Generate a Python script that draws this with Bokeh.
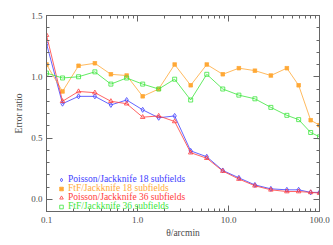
from bokeh.plotting import figure
from bokeh.models import (FixedTicker, LogAxis, LinearAxis, Legend, LegendItem,
                          PrintfTickFormatter, CustomJSTickFormatter, Range1d)
from bokeh.embed import file_html
from bokeh.resources import INLINE

theta = [0.1, 0.15, 0.225, 0.34, 0.51, 0.76, 1.14, 1.71, 2.56, 3.84, 5.77, 8.65,
         13.0, 19.5, 29.2, 43.8, 59.0, 80.0, 100.0]
poisson_jk18 = [1.27, 0.78, 0.84, 0.84, 0.77, 0.81, 0.73, 0.665, 0.68, 0.395, 0.347,
                0.235, 0.175, 0.117, 0.085, 0.077, 0.077, 0.056, 0.056]
ftf_jk18 = [1.10, 0.88, 1.09, 1.11, 1.02, 1.01, 0.84, 0.90, 1.10, 0.93, 1.10, 1.02,
            1.07, 1.05, 1.01, 1.07, 0.93, 0.645, 0.605]
poisson_jk36 = [1.34, 0.80, 0.88, 0.87, 0.80, 0.78, 0.67, 0.68, 0.635, 0.38, 0.335,
                0.23, 0.165, 0.11, 0.077, 0.063, 0.063, 0.056, 0.05]
ftf_jk36 = [1.03, 0.99, 1.00, 1.04, 0.94, 0.99, 0.94, 0.90, 0.98, 0.81, 1.02, 0.90,
            0.85, 0.82, 0.75, 0.685, 0.65, 0.545, 0.51]

x_major = [0.1, 1.0, 10.0, 100.0]
x_labels = ["0.1", "1.0", "10.0", "100.0"]
x_minor = [m * d for d in [0.1, 1.0, 10.0] for m in range(2, 10)]
y_major = [0.0, 0.5, 1.0, 1.5]
y_minor = [i / 10 for i in range(-1, 16)]

FONT = "Liberation Serif"
AXC = "#666666"
TXC = "#4a4a4a"

p = figure(x_axis_type="log", width=333, height=240,
           x_range=Range1d(0.1, 100), y_range=Range1d(-0.1, 1.5),
           output_backend="svg", toolbar_location=None,
           min_border_left=46, min_border_right=14, min_border_top=15, min_border_bottom=25)
p.grid.visible = False
p.outline_line_color = AXC
p.outline_line_width = 1
p.background_fill_color = "white"

def style(ax):
    ax.axis_line_color = AXC
    ax.major_tick_line_color = AXC
    ax.minor_tick_line_color = AXC
    ax.major_tick_in = 6
    ax.major_tick_out = 0
    ax.minor_tick_in = 3
    ax.minor_tick_out = 0
    ax.major_label_text_font = FONT
    ax.major_label_text_font_size = "9px"
    ax.major_label_text_color = TXC
    ax.axis_label_text_font = FONT
    ax.axis_label_text_font_size = "9.5px"
    ax.axis_label_text_font_style = "normal"
    ax.axis_label_text_color = TXC

xt = FixedTicker(ticks=x_major, minor_ticks=x_minor)
yt = FixedTicker(ticks=y_major, minor_ticks=y_minor)

xa = p.xaxis[0]
xa.ticker = xt
xa.major_label_overrides = {t: l for t, l in zip(x_major, x_labels)}
xa.axis_label = "θ/arcmin"
xa.major_label_standoff = 5
xa.axis_label_standoff = 2
style(xa)

ya = p.yaxis[0]
ya.ticker = yt
ya.formatter = PrintfTickFormatter(format="%.1f")
ya.axis_label = "Error ratio"
ya.major_label_standoff = 4
ya.axis_label_standoff = 4
style(ya)

empty = CustomJSTickFormatter(code="return ''")
top = LogAxis(ticker=xt, formatter=empty, major_label_standoff=0)
style(top)
right = LinearAxis(ticker=yt, formatter=empty, major_label_standoff=0)
style(right)
p.add_layout(top, "above")
p.add_layout(right, "right")

series = [
    ("Poisson/Jackknife 18 subfields", poisson_jk18, "#3c3cff", "diamond", 5, None),
    ("FtF/Jackknife 18 subfields", ftf_jk18, "#ffa836", "square_x", 3.5, "#ffa836"),
    ("Poisson/Jackknife 36 subfields", poisson_jk36, "#ff3c3c", "triangle", 4.5, None),
    ("FtF/Jackknife 36 subfields", ftf_jk36, "#3ce63c", "square", 4, None),
]

renderers = []
for label, ys, col, mk, sz, fill in series:
    p.line(theta, ys, line_color=col, line_width=0.8)
    r = p.scatter(theta, ys, marker=mk, size=sz, line_color=col, fill_color=fill,
                  line_width=0.8)
    renderers.append(r)

offsets = [27, 18, 9, 0]
for (label, ys, col, mk, sz, fill), r, yoff in zip(series, renderers, offsets):
    leg = Legend(items=[LegendItem(label=label, renderers=[r])],
                 location=(10, yoff), orientation="vertical",
                 label_text_font=FONT, label_text_font_size="9.5px",
                 label_text_color=col, background_fill_alpha=0,
                 border_line_alpha=0, padding=0, margin=0, spacing=0,
                 glyph_width=10, glyph_height=9, label_height=9, label_standoff=2)
    p.add_layout(leg, "center")

open("out.html", "w").write(file_html(p, INLINE))
